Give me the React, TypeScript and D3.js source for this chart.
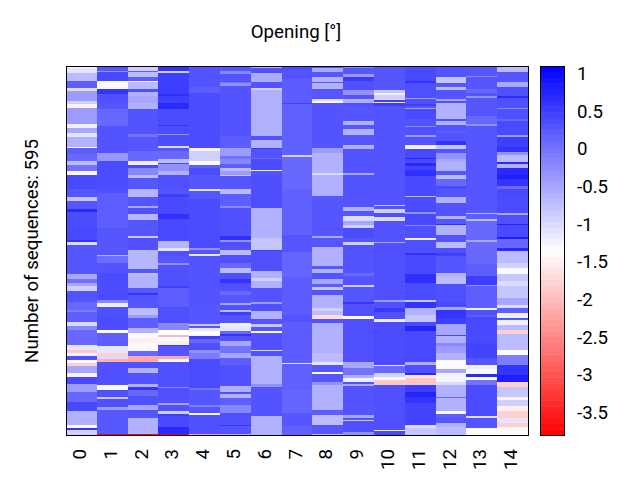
import React, { useEffect, useRef } from 'react';
import * as d3 from 'd3';

// each column is a list of runs: [last sequence index of the run, opening value]
const col0 = [[4,-1.5],[11,-1.1],[24,-0.7],[35,0.2],[40,-1],[56,-0.4],[61,-0.9],[68,-1.5],[94,-0.4],[100,-1.2],[108,-0.5],[115,-1.1],[130,-0.6],[133,-1.4],[142,0.2],[153,0.1],[160,-0.7],[169,0],[175,-1.3],[199,0.4],[211,0.27],[217,-0.8],[231,0.27],[235,0.7],[261,0.37],[280,0.4],[284,0.6],[288,-1],[336,0.27],[343,-0.5],[350,0],[355,-0.5],[362,-0.9],[380,0.3],[393,0.1],[397,-0.1],[412,0.2],[420,-1],[425,-0.2],[450,0.1],[458,-1.1],[463,-1.9],[468,-1.2],[474,0.33],[479,-1.3],[484,-1.8],[495,-0.5],[501,-1.5],[512,0.4],[525,-0.4],[541,0.1],[557,0.4],[579,-0.6],[583,-1.4],[587,0.6],[595,-0.9]];
const col1 = [[8,0.27],[10,-0.3],[24,0.4],[37,-1.3],[45,0.6],[59,0.33],[69,0.27],[97,0.1],[140,0.3],[153,-0.35],[199,0.37],[204,0.33],[261,0.2],[304,0.27],[307,-0.6],[317,0.05],[334,0.3],[377,0.37],[382,-0.2],[389,-1.2],[401,0.33],[425,0.37],[430,-1.35],[451,0.2],[463,-1.1],[467,-1.8],[473,-1],[477,-2.1],[514,0.33],[522,-1.3],[534,0.33],[537,-0.8],[550,0.33],[555,-0.4],[593,0.25],[595,-3.8]];
const col2 = [[8,-0.9],[10,0.2],[18,-0.7],[24,0.2],[26,-1.5],[37,-0.7],[42,0.33],[49,-0.6],[59,-0.5],[69,-0.6],[110,0.3],[115,0],[137,0.27],[153,0.1],[159,-1.2],[164,0.4],[175,-0.2],[180,-0.7],[199,0.27],[212,-0.65],[226,0.27],[229,-0.5],[239,0.33],[249,-0.65],[274,0.27],[277,-0.8],[296,0.33],[328,-0.65],[334,0.27],[339,-0.7],[358,-0.6],[366,0.27],[370,0.6],[390,0.27],[401,-0.7],[406,-0.4],[423,0.2],[431,-0.6],[439,-1.3],[447,-1.5],[459,-1.3],[468,0.1],[477,-2.2],[487,0.33],[495,-0.6],[512,0.3],[518,-0.6],[522,0.6],[532,0.1],[547,0.33],[555,-0.5],[568,0.27],[593,-0.6],[595,-3.8]];
const col3 = [[8,0.6],[11,-0.9],[45,0.5],[49,0.65],[59,0.5],[69,0.7],[95,0.37],[97,0.6],[110,0.37],[112,-0.3],[129,0.37],[132,-1],[137,0.27],[150,0.1],[156,-0.7],[158,0.4],[169,-0.3],[175,-0.6],[199,0.33],[207,0.27],[211,0.5],[239,0.4],[247,0.65],[282,0.4],[294,-0.65],[298,-1.1],[307,0.33],[317,0.27],[321,-0.3],[355,0.33],[358,0.5],[388,0.2],[389,-0.4],[415,0.33],[425,-0.2],[433,-1.35],[437,-2],[444,-1.3],[450,-1.5],[452,0.5],[467,0.3],[473,-2.2],[477,-1.3],[517,0.33],[520,-0.2],[544,0.33],[547,-0.5],[557,0.33],[561,-0.9],[565,0.5],[582,0.4],[593,0.7],[595,-3.8]];
const col4 = [[8,0.3],[34,0.3],[43,0.22],[133,0.37],[137,-1.5],[153,-0.9],[159,-1.3],[164,0.2],[175,0.37],[198,0.27],[201,-1.1],[215,0.27],[293,0.37],[296,-0.3],[303,0.27],[307,-1.1],[385,0.3],[416,0.27],[420,-0.8],[423,0.27],[428,-1.1],[436,-1.3],[440,0.5],[447,0.1],[458,0.33],[463,-0.3],[473,-0.1],[520,0.37],[522,0],[547,0.27],[550,-0.1],[559,0.27],[563,-1.3],[593,0.33],[595,-2.3]];
const col5 = [[8,0.27],[13,-0.2],[25,0.3],[27,0],[33,-0.3],[113,0.3],[132,0.22],[145,-0.4],[150,0],[158,-0.2],[164,0.2],[169,-0.7],[176,-0.4],[178,-0.8],[198,0.27],[206,-0.7],[226,0.2],[229,-0.2],[274,0.33],[280,0.65],[284,-0.3],[296,0.33],[304,-0.7],[317,0.33],[325,0.1],[334,-0.7],[344,0.33],[350,0.6],[363,0.33],[369,0.1],[382,0.27],[386,-0.5],[393,0.33],[397,-0.7],[401,0.5],[415,0.3],[420,-1.2],[428,-1.1],[432,0.1],[435,0.6],[444,0.3],[452,-0.5],[463,0],[471,-0.5],[482,0.2],[516,0.33],[525,-0.6],[529,0.33],[536,-0.6],[547,0.2],[560,-0.2],[579,0.33],[581,0.6],[593,0.3],[595,-0.6]];
const col6 = [[3,-0.6],[11,0.33],[25,-0.55],[36,0.3],[38,-0.9],[113,-0.6],[120,0.33],[132,-0.6],[134,0.5],[148,0.3],[150,0.1],[167,0.37],[170,-1.2],[175,0.3],[229,0.35],[277,-0.6],[296,-0.8],[298,0.5],[331,0.33],[342,-0.6],[347,-0.9],[358,-0.6],[380,0.3],[384,-0.4],[395,0.33],[408,-0.6],[416,0.3],[421,-0.8],[428,0.27],[431,-1.3],[458,0.32],[460,-1],[468,0.33],[512,-0.6],[518,-0.3],[564,0.3],[595,-0.6]];
const col7 = [[6,0.37],[21,0.3],[59,0.22],[62,0.45],[144,0.18],[146,-0.9],[199,0.1],[272,0.18],[300,0.27],[340,0.13],[401,0.22],[412,0.3],[479,0.22],[481,-1.1],[522,0.18],[560,0.13],[580,0.27],[595,0.18]];
const col8 = [[3,0.27],[9,-0.5],[17,0.27],[25,-0.6],[27,0.3],[37,-0.6],[53,0.27],[56,-1],[60,-1.4],[133,0.3],[141,-0.4],[173,-0.6],[175,-1],[209,-0.6],[274,0.27],[278,-0.5],[292,0.27],[322,-0.6],[328,0.27],[334,-0.6],[343,0.3],[351,-0.5],[357,0.22],[361,-0.8],[370,0.3],[390,-0.6],[395,-0.9],[401,-0.7],[408,-1.7],[415,0.3],[463,-0.6],[477,-0.7],[482,-1.1],[494,0.27],[497,-1.3],[509,0.27],[514,-0.3],[555,-0.6],[563,0.2],[579,-0.7],[593,0.27],[595,-0.7]];
const col9 = [[4,-0.2],[13,0.27],[18,-0.4],[24,0.55],[38,0.33],[46,-0.3],[53,0.27],[59,-0.6],[64,0.33],[78,0.27],[89,0.3],[95,-0.6],[101,0.27],[111,-0.6],[128,0.27],[134,-0.6],[173,0.3],[175,-0.5],[227,0.3],[234,-0.6],[242,0.27],[250,-1],[256,-0.5],[262,-0.9],[277,0.37],[283,0.27],[289,-0.9],[334,0.3],[339,0.1],[353,0.3],[357,-0.9],[380,0.27],[383,0.6],[403,0.33],[408,-1.3],[477,0.33],[487,-0.5],[498,0],[503,-0.6],[509,-1.2],[513,0.3],[516,-0.5],[563,0.3],[567,-0.5],[571,0.33],[573,-0.8],[590,0.33],[595,-0.3]];
const col10 = [[38,0.27],[43,-0.8],[47,-1.2],[53,-0.9],[55,-1.8],[58,0.5],[60,-1.1],[64,0.5],[224,0.3],[226,-0.9],[230,0.3],[237,-0.9],[244,0.33],[250,-1],[283,0.3],[285,-0.5],[377,0.33],[381,-0.4],[390,0.33],[396,0.55],[408,0.33],[413,-1.2],[482,0.37],[484,-1.2],[495,0.1],[501,-0.9],[507,-1.4],[514,-1.9],[587,0.33],[589,-1.2],[595,0.4]];
const col11 = [[6,0.37],[24,0.4],[27,0.6],[51,0.33],[53,-0.4],[62,0.33],[64,0.5],[67,0.27],[70,-0.4],[86,0.4],[97,0.3],[99,-0.2],[112,0.33],[114,-0.4],[128,0.3],[134,-1.2],[148,0.4],[150,0.7],[156,0.37],[161,0.7],[167,0.45],[178,0.65],[210,0.4],[212,-0.7],[236,0.37],[238,-0.3],[256,0.4],[258,-0.2],[278,0.33],[280,-1.2],[301,0.33],[305,0.65],[336,0.4],[350,0.65],[378,0.37],[381,-0.8],[390,0.6],[401,-0.6],[413,-0.8],[420,0.4],[428,0.75],[477,0.4],[482,-0.6],[495,0.33],[498,0.7],[503,-1.6],[514,-1.9],[525,0.5],[534,0.75],[544,0.6],[579,0.45],[583,-1],[595,-0.8]];
const col12 = [[18,0.3],[27,-0.8],[34,0.27],[38,-0.7],[53,0.3],[56,-0.5],[60,0.33],[85,-0.6],[89,0.33],[95,-0.6],[105,0.3],[108,0.2],[121,0.3],[128,0.6],[134,-0.8],[141,0.3],[150,-0.3],[155,-0.5],[170,-0.6],[175,0.27],[183,-0.7],[194,0.1],[199,0.4],[211,0.3],[221,-0.6],[242,0.3],[246,-0.6],[254,0.27],[257,0.65],[272,-0.6],[283,0.3],[294,-0.7],[301,0.33],[307,0.5],[334,0.27],[341,-0.6],[352,-0.7],[380,0.33],[388,0.4],[393,-0.5],[401,0.6],[406,0.6],[416,0.5],[433,-0.5],[436,0.4],[447,-0.6],[451,-0.2],[463,-0.4],[474,-0.6],[489,-1.3],[495,-0.5],[510,-1.25],[514,-1],[534,-0.6],[536,0.1],[557,-0.6],[561,-1.4],[567,0.2],[576,0.27],[582,-0.6],[595,-0.7]];
const col13 = [[16,0.27],[18,-0.2],[37,0.27],[43,0.1],[49,0.27],[52,-0.3],[80,0.27],[94,0.1],[97,-0.3],[237,0.27],[239,-0.7],[247,0.2],[250,-0.7],[280,0.1],[283,-0.5],[320,0.1],[339,0.2],[353,0.5],[354,-0.3],[390,0.2],[393,-1.2],[401,0.33],[404,0.2],[447,0.4],[471,0.45],[482,0.27],[489,-1.2],[497,-1.3],[501,0.7],[507,-1.3],[514,0],[564,0.37],[568,-1],[583,0.3],[595,-1.4]];
const col14 = [[10,-0.7],[26,0.27],[34,-0.5],[49,0.33],[52,0.7],[67,0.33],[70,-0.2],[85,0.33],[89,0.1],[112,0.4],[114,-0.4],[130,0.5],[139,0.6],[144,-0.3],[155,-0.7],[158,0.7],[165,-0.6],[175,0.7],[183,0.8],[194,0.6],[199,0.1],[212,0.4],[237,0.37],[240,-0.5],[254,0.33],[257,0.8],[276,0.4],[279,0.8],[293,0.1],[298,0.7],[318,-0.7],[326,-0.9],[335,-1.3],[347,-0.8],[355,-1],[374,-0.8],[385,-0.5],[391,-1],[399,0.2],[406,-1.2],[410,0.27],[417,-1.2],[425,-0.7],[432,-1.8],[458,-0.7],[466,-1.4],[482,-0.1],[498,0.6],[510,0.8],[518,-1.8],[534,-0.8],[538,-1.5],[549,-0.9],[557,-1.5],[568,-1.8],[576,-1.1],[582,-1.8],[595,-1.4]];

const columns = [col0, col1, col2, col3, col4, col5, col6, col7, col8, col9, col10, col11, col12, col13, col14];
const positions = ['0', '1', '2', '3', '4', '5', '6', '7', '8', '9', '10', '11', '12', '13', '14'];
const colorTicks = [1, 0.5, 0, -0.5, -1, -1.5, -2, -2.5, -3, -3.5];
const numSequences = 595;
const minValue = -3.8;
const maxValue = 1.1;

const FONT = 'Roboto, sans-serif';
const FONT_SIZE = '18.7px';

const App = () => {
    const svgRef = useRef<SVGSVGElement>(null);

    useEffect(() => {
        const width = 640;
        const height = 480;
        const margin = { top: 66, right: 112, bottom: 45, left: 66 };
        const barX = 540;
        const barWidth = 24;

        const svg = d3.select(svgRef.current);
        svg.selectAll('*').remove();

        const x = d3.scaleBand().domain(positions).range([margin.left, width - margin.right]);
        const y = d3.scaleLinear().domain([0, numSequences]).range([margin.top, height - margin.bottom]);
        const color = d3.scaleLinear<string>()
            .domain([minValue, (minValue + maxValue) / 2, maxValue])
            .range(['#ff0000', '#ffffff', '#0000ff']);

        // Heatmap runs
        columns.forEach((runs, i) => {
            let start = 0;
            runs.forEach(([end, value]) => {
                svg.append('rect')
                    .attr('x', x(positions[i]))
                    .attr('y', y(start))
                    .attr('width', x.bandwidth())
                    .attr('height', y(end) - y(start))
                    .attr('fill', color(value))
                    .attr('shape-rendering', 'crispEdges');
                start = end;
            });
        });

        svg.append('rect')
            .attr('x', margin.left + 0.5)
            .attr('y', margin.top + 0.5)
            .attr('width', width - margin.left - margin.right)
            .attr('height', height - margin.top - margin.bottom)
            .attr('fill', 'none')
            .attr('stroke', '#000');

        // X axis labels
        const xAxis = svg.append('g')
            .attr('transform', `translate(0, ${height - margin.bottom})`)
            .call(d3.axisBottom(x).tickSize(0));
        xAxis.select('.domain').remove();
        xAxis.selectAll('text')
            .attr('transform', 'rotate(-90)')
            .attr('x', -14)
            .attr('y', -2)
            .attr('dy', '0.35em')
            .attr('text-anchor', 'end')
            .style('font-family', FONT)
            .style('font-size', FONT_SIZE)
            .style('fill', '#000');

        // Colour bar
        const c = d3.scaleLinear().domain([minValue, maxValue]).range([height - margin.bottom, margin.top]);
        const step = (maxValue - minValue) / 64;
        d3.range(minValue, maxValue, step).forEach(v => {
            svg.append('rect')
                .attr('x', barX)
                .attr('y', c(v + step))
                .attr('width', barWidth)
                .attr('height', c(v) - c(v + step) + 0.5)
                .attr('fill', color(v + step / 2));
        });
        svg.append('rect')
            .attr('x', barX + 0.5)
            .attr('y', margin.top + 0.5)
            .attr('width', barWidth)
            .attr('height', height - margin.top - margin.bottom)
            .attr('fill', 'none')
            .attr('stroke', '#000');

        const cAxis = svg.append('g')
            .attr('transform', `translate(${barX + barWidth}, 0)`)
            .call(d3.axisRight(c).tickValues(colorTicks).tickFormat(d => String(d)).tickSize(0));
        cAxis.select('.domain').remove();
        cAxis.selectAll('text')
            .attr('x', 13)
            .style('font-family', FONT)
            .style('font-size', FONT_SIZE)
            .style('fill', '#000');

        // Titles
        svg.append('text')
            .attr('x', 296)
            .attr('y', 38)
            .attr('text-anchor', 'middle')
            .style('font-family', FONT)
            .style('font-size', FONT_SIZE)
            .text('Opening [°]');

        svg.append('text')
            .attr('transform', 'translate(38, 251) rotate(-90)')
            .attr('text-anchor', 'middle')
            .style('font-family', FONT)
            .style('font-size', FONT_SIZE)
            .text(`Number of sequences: ${numSequences}`);
    }, []);

    return (
        <svg
            ref={svgRef}
            width={640}
            height={480}
            style={{ position: 'absolute', left: 0, top: 0, display: 'block', background: '#fff' }}
        />
    );
};

export default App;
